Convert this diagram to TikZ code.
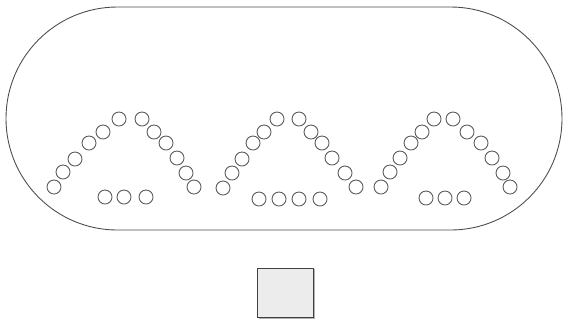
\documentclass[tikz,border=0pt]{standalone}
\begin{document}
\begin{tikzpicture}[x=0.02cm,y=-0.02cm,line width=0.5pt]
\useasboundingbox (0,0) rectangle (563,322);
\draw[gray!60!black] (117.5,7)--(450.5,7) arc (-90:90:111.5)--(117.5,230) arc (90:270:111.5)--cycle;
\foreach \x/\y in {54/187,63/172,75/159,89/143,103/132,119/119,142/119,154/132,166/143,177/158,186/173,194/187,
                   105/197,124/197,146/197}
  \draw[gray!70!black] (\x,\y) circle (7);
\foreach \x/\y in {223/188,232/173,242/159,253/143,264/132,277/119,299/119,311/132,322/143,332/158,345/173,356/187,
                   259/199,279/199,299/199,320/199}
  \draw[gray!70!black] (\x,\y) circle (7);
\foreach \x/\y in {381/187,390/172,400/158,411/143,422/132,434/119,453/119,467/132,481/143,492/158,503/173,510/187,
                   426/198,445/198,464/198}
  \draw[gray!70!black] (\x,\y) circle (7);
\draw[gray!60,line width=1.2pt] (258.5,317.5)--(313.5,317.5)--(313.5,269);
\draw[fill=gray!15,draw=black!75] (257,268) rectangle (313,317);
\end{tikzpicture}
\end{document}
